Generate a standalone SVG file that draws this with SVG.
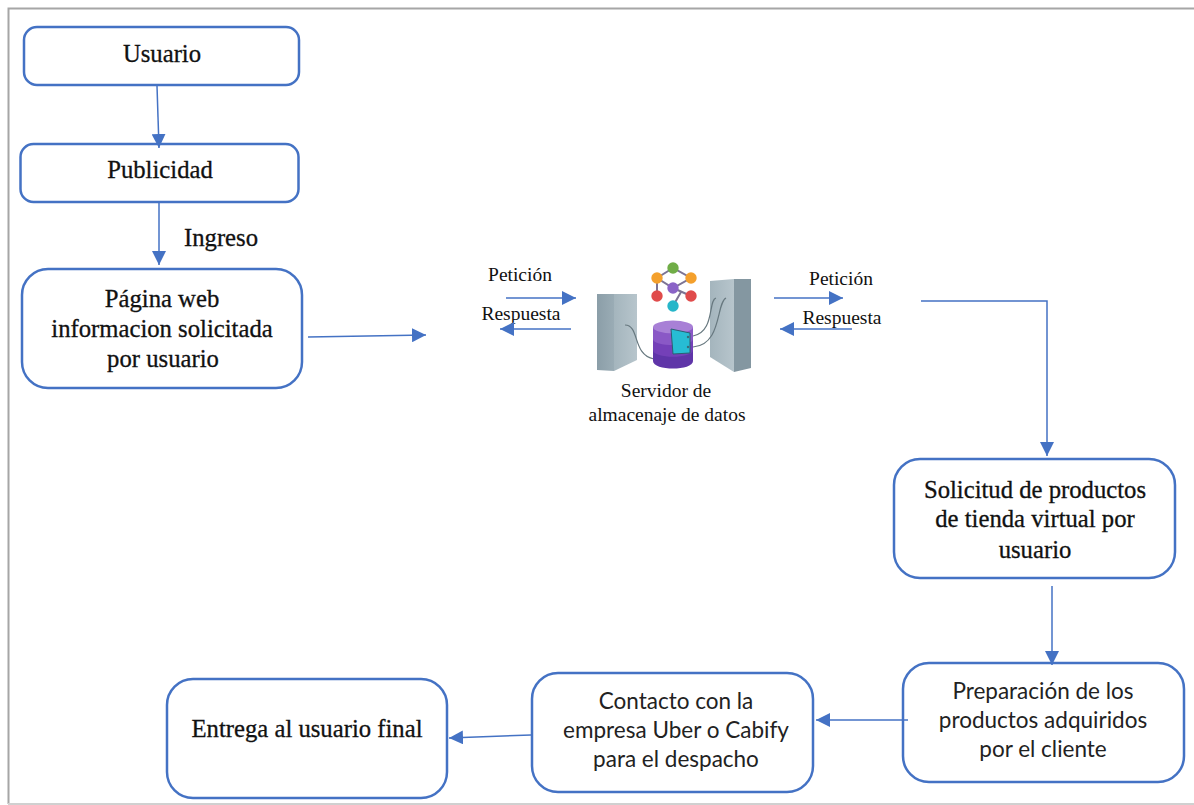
<svg xmlns="http://www.w3.org/2000/svg" width="1194" height="805" viewBox="0 0 1194 805">
<style>
.n{fill:#fff;stroke:#4472c4;stroke-width:2.500}
.c{fill:none;stroke:#4472c4;stroke-width:1.500}
text{font-family:"Liberation Serif",serif;fill:#111;text-anchor:middle}
.b{font-size:24.700px;stroke:#111;stroke-width:.3}
.s{font-size:19.500px}
.a{font-family:Lato,"Open Sans",sans-serif;font-size:22.500px;fill:#222}
</style>
<defs>
<marker id="ah" markerUnits="userSpaceOnUse" markerWidth="14" markerHeight="14" refX="14" refY="7" orient="auto"><path d="M0 0L14 7L0 14Z" fill="#4472c4"/></marker>
<linearGradient id="d1" x1="0" x2="1" y1="0" y2="0"><stop offset="0" stop-color="#8b9ea8"/><stop offset="1" stop-color="#9aacb5"/></linearGradient>
<linearGradient id="l1" x1="0" x2="1" y1="0" y2="0"><stop offset="0" stop-color="#a4b5bd"/><stop offset="1" stop-color="#b7c5cc"/></linearGradient>
</defs>
<rect width="1194" height="805" fill="#fff"/>
<path d="M1194 8.500H8.500V804" fill="none" stroke="#a6a6a6" stroke-width="2"/>
<path d="M8 804H1194" fill="none" stroke="#d0d0d0" stroke-width="2"/>
<g id="n-usuario"><rect class="n" x="24" y="27" width="275" height="58" rx="13"/><text class="b" x="162" y="62">Usuario</text></g>
<g id="n-publicidad"><rect class="n" x="20.500" y="144" width="278" height="58" rx="13"/><text class="b" x="160" y="178">Publicidad</text></g>
<text class="b" x="221" y="246" id="l-ingreso">Ingreso</text>
<g id="n-pagina"><rect class="n" x="22" y="269" width="280" height="119" rx="26"/><text class="b" x="162" y="307">Página web</text><text class="b" x="162" y="337">informacion solicitada</text><text class="b" x="163" y="367">por usuario</text></g>
<g id="servidor">
<path fill="url(#l1)" d="M614 294H637V360L614 371Z"/><path fill="url(#d1)" d="M597 294H614V371L597 370Z"/>
<path fill="url(#l1)" d="M710 281L734 279V372L710 357Z"/><path fill="#8497a1" d="M734 279H751V368L734 372Z"/>
<path fill="none" stroke="#67787f" stroke-width="1.200" d="M625 325C640 325 632 355 654 359M693 336C715 332 708 300 716 298M693 347C722 345 716 303 726 298"/>
<path fill="#5f35a8" d="M653 327V361C653 371 693 371 693 361V327Z"/><path fill="#7440b8" d="M653 327V350C653 359 693 359 693 350V327Z"/><path fill="#8a58c6" d="M653 327V339C653 347 693 347 693 339V327Z"/><ellipse cx="673" cy="327" rx="20" ry="6.500" fill="#a880d6"/>
<path fill="#27bcd4" stroke="#2a5f72" stroke-width="1" d="M671 329L690 333V353L673 354Z"/>
<circle cx="688" cy="337" r="1.200" fill="#3b6b78"/><circle cx="688" cy="347" r="1.200" fill="#3b6b78"/>
<path fill="none" stroke="#7d7494" stroke-width="2" d="M673 268L657 278L673 288L691 278ZM657 278V296M673 288L691 296M681 292L673 306"/>
<circle cx="673" cy="268" r="5.700" fill="#70ad47"/><circle cx="657" cy="278" r="5.700" fill="#f4a02c"/><circle cx="691" cy="278" r="5.700" fill="#f4a02c"/><circle cx="673" cy="288" r="5.700" fill="#8a63c7"/><circle cx="657" cy="296" r="5.700" fill="#e04b4b"/><circle cx="691" cy="296" r="5.700" fill="#e04b4b"/><circle cx="673" cy="306" r="5.700" fill="#27b6c9"/>
<text class="s" x="666" y="397">Servidor de</text><text class="s" x="667" y="421">almacenaje de datos</text>
</g>
<text class="s" x="520" y="281">Petición</text><text class="s" x="521" y="320">Respuesta</text><text class="s" x="841" y="285">Petición</text><text class="s" x="842" y="324">Respuesta</text>
<g id="n-solicitud"><rect class="n" x="894" y="459" width="281" height="119" rx="26"/><text class="b" x="1035" y="498">Solicitud de productos</text><text class="b" x="1035" y="527">de tienda virtual por</text><text class="b" x="1035" y="558">usuario</text></g>
<g id="n-preparacion"><rect class="n" x="903" y="663" width="281" height="119" rx="26"/><text class="a" x="1043" y="699">Preparación de los</text><text class="a" x="1043" y="728">productos adquiridos</text><text class="a" x="1043" y="757">por el cliente</text></g>
<g id="n-contacto"><rect class="n" x="532" y="673" width="281" height="119" rx="26"/><text class="a" x="676" y="709">Contacto con la</text><text class="a" x="676" y="738">empresa Uber o Cabify</text><text class="a" x="676" y="767">para el despacho</text></g>
<g id="n-entrega"><rect class="n" x="167" y="679" width="280" height="119" rx="26"/><text class="b" x="307" y="737">Entrega al usuario final</text></g>
<g id="connectors">
<path class="c" marker-end="url(#ah)" d="M157 86L159 148"/>
<path class="c" marker-end="url(#ah)" d="M159 203V265"/>
<path class="c" marker-end="url(#ah)" d="M308 337L426 335"/>
<path class="c" marker-end="url(#ah)" d="M506 298H576"/>
<path class="c" marker-end="url(#ah)" d="M571 329H500"/>
<path class="c" marker-end="url(#ah)" d="M774 298H843"/>
<path class="c" marker-end="url(#ah)" d="M852 329H780"/>
<path class="c" marker-end="url(#ah)" d="M921 301H1047V456"/>
<path class="c" marker-end="url(#ah)" d="M1052 586V665"/>
<path class="c" marker-end="url(#ah)" d="M908 720H816"/>
<path class="c" marker-end="url(#ah)" d="M531 735L449 738"/>
</g>
</svg>
